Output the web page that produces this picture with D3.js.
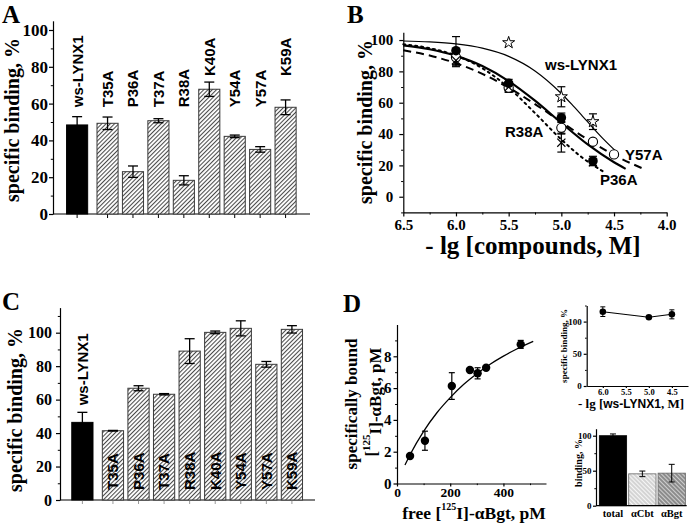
<!DOCTYPE html>
<html><head><meta charset="utf-8">
<script src="https://cdn.jsdelivr.net/npm/d3@7"></script>
<style>body{margin:0;background:#fff}</style>
</head><body>
<script>
// ---------------- DATA ----------------
const categories = ["ws-LYNX1","T35A","P36A","T37A","R38A","K40A","Y54A","Y57A","K59A"];
const valuesA = [48.4, 49.3, 23.0, 50.7, 18.3, 67.8, 42.2, 35.1, 58.0];
const errorsA = [4.5, 3.4, 3.1, 1.1, 2.5, 3.9, 0.7, 1.5, 4.0];
const valuesC = [46.4, 41.4, 66.8, 63.2, 89.0, 100.2, 102.6, 81.1, 102.0];
const errorsC = [6.0, 0.2, 1.5, 0.4, 7.4, 0.8, 4.5, 1.7, 2.2];
const ticksA = [0, 20, 40, 60, 80, 100];
const ticksB_x = [6.5, 6.0, 5.5, 5.0, 4.5, 4.0];
const ticksB_y = [0, 20, 40, 60, 80, 100];

// Panel B points (x = -lg[C, M])
const wsX = [5.5, 5.0, 4.7],           wsY = [98.3, 63.8, 47.9],             wsE = [0, 6.4, 5.0];
const p36X = [6.0, 5.5, 5.0, 4.7],     p36Y = [93.2, 72.4, 50.4, 22.8],      p36E = [9.0, 2.5, 3.0, 3.0];
const y57X = [6.0, 5.5, 5.0, 4.7, 4.5],y57Y = [89.0, 69.6, 44.0, 35.1, 27.0],y57E = [5.0, 3.0, 4.0, 0, 0];
const r38X = [6.0, 5.5, 5.0, 4.7],     r38Y = [87.0, 70.0, 34.5, 22.0],      r38E = [4.0, 3.0, 6.0, 2.0];
// Panel B fitted curves
const wsCurveX  = [6.5, 6.25, 6.0, 5.75, 5.5, 5.25, 5.0, 4.9, 4.8, 4.7, 4.6, 4.475];
const wsCurveY  = [99.4, 98.8, 97.5, 94.8, 89.6, 80.3, 65.9, 58.9, 51.5, 44.0, 36.8, 28.6];
const p36CurveX = [6.5, 6.25, 6.0, 5.75, 5.5, 5.25, 5.0, 4.75, 4.5, 4.39];
const p36CurveY = [96.6, 94.1, 89.9, 83.4, 73.8, 61.3, 47.1, 33.4, 22.0, 17.8];
const y57CurveX = [6.5, 6.25, 6.0, 5.75, 5.5, 5.25, 5.0, 4.75, 4.5, 4.21];
const y57CurveY = [93.5, 90.1, 85.2, 78.4, 69.6, 59.1, 47.7, 36.5, 26.6, 17.5];
const r38CurveX = [6.5, 6.25, 6.0, 5.75, 5.5, 5.25, 5.0, 4.8, 4.6];
const r38CurveY = [97.3, 94.8, 90.1, 82.0, 69.6, 53.4, 36.5, 24.9, 16.0];

// Panel D saturation
const freeD  = [49, 105, 206, 274, 303, 335, 465];
const boundD = [1.73, 2.69, 6.13, 7.14, 6.93, 7.28, 8.75];
const errD   = [0, 0.6, 0.84, 0, 0.35, 0, 0.25];
const fitFree  = [30, 50, 100, 150, 200, 250, 300, 350, 400, 450, 512];
const fitBound = [1.16, 1.84, 3.28, 4.45, 5.40, 6.22, 6.90, 7.50, 8.01, 8.46, 8.94];
// Inset 1
const insetX = [6.0, 5.0, 4.5];
const insetY = [115.4, 106.7, 111.3];
const insetE = [7.5, 1.5, 7.0];
const insetTicksX = [6.0, 5.5, 5.0, 4.5];
// Inset 2
const ctrlCats = ["total", "\u03b1Cbt", "\u03b1Bgt"];
const ctrlVals = [100, 45.5, 46.5];
const ctrlErr  = [2.5, 4.0, 12.6];

// ---------------- SETUP ----------------
const SERIF = "'Liberation Serif','Times New Roman',Times,serif";
const SANS = "'Liberation Sans',Arial,Helvetica,sans-serif";
const W = 693, H = 523;
const svg = d3.select("body").append("svg").attr("width", W).attr("height", H)
  .attr("font-family", SERIF);
svg.append("rect").attr("width", W).attr("height", H).attr("fill", "#fff");

const defs = svg.append("defs");
function hatch(id, bg, fg, angle, size, sw) {
  const p = defs.append("pattern").attr("id", id).attr("patternUnits", "userSpaceOnUse")
    .attr("width", size).attr("height", size).attr("patternTransform", `rotate(${angle})`);
  p.append("rect").attr("width", size).attr("height", size).attr("fill", bg);
  p.append("line").attr("x1", 0.5).attr("y1", 0).attr("x2", 0.5).attr("y2", size)
    .attr("stroke", fg).attr("stroke-width", sw);
}
hatch("hatchMain", "#fff", "#4a4a4a", 45, 3, 1.1);
hatch("hatchCbt", "#d4d4d4", "#f6f6f6", -45, 3, 1);
hatch("hatchBgt", "#8c8c8c", "#cfcfcf", -45, 3, 1);

function styleAxis(g, size) {
  g.attr("font-family", SERIF);
  g.select(".domain").attr("stroke", "#000").attr("stroke-width", 1.2);
  g.selectAll(".tick line").attr("stroke", "#000").attr("stroke-width", 1.2);
  g.selectAll(".tick text").attr("font-family", SERIF).attr("font-weight", "bold")
    .attr("font-size", size).attr("fill", "#000");
}
function leftAxis(scale, x, major, minor, size, fmt, len, pad) {
  const g = svg.append("g").attr("transform", `translate(${x},0)`);
  g.call(d3.axisLeft(scale).tickValues(major).tickSize(len).tickSizeOuter(0).tickPadding(pad).tickFormat(fmt));
  styleAxis(g, size);
  if (minor) {
    const m = svg.append("g").attr("transform", `translate(${x},0)`);
    m.call(d3.axisLeft(scale).tickValues(minor).tickSize(len * 0.55).tickSizeOuter(0).tickFormat(""));
    m.select(".domain").remove();
    m.selectAll(".tick line").attr("stroke", "#000").attr("stroke-width", 1);
  }
  return g;
}
function bottomAxis(scale, y, major, minor, size, fmt, len, pad) {
  const g = svg.append("g").attr("transform", `translate(0,${y})`);
  g.call(d3.axisBottom(scale).tickValues(major).tickSize(len).tickSizeOuter(0).tickPadding(pad).tickFormat(fmt));
  styleAxis(g, size);
  if (minor) {
    const m = svg.append("g").attr("transform", `translate(0,${y})`);
    m.call(d3.axisBottom(scale).tickValues(minor).tickSize(len * 0.55).tickSizeOuter(0).tickFormat(""));
    m.select(".domain").remove();
    m.selectAll(".tick line").attr("stroke", "#000").attr("stroke-width", 1);
  }
  return g;
}
function rotText(x, y, size, family, anchor) {
  return svg.append("text").attr("transform", `translate(${x},${y}) rotate(-90)`)
    .attr("text-anchor", anchor || "middle").attr("font-family", family)
    .attr("font-weight", "bold").attr("font-size", size).attr("fill", "#000");
}
function panelLetter(t, x, y) {
  svg.append("text").attr("x", x).attr("y", y).text(t).attr("font-family", SERIF)
    .attr("font-weight", "bold").attr("font-size", 25);
}
function errBar(g, x, y0, y1, cap, sw) {
  g.append("line").attr("x1", x).attr("x2", x).attr("y1", y0).attr("y2", y1).attr("stroke", "#000").attr("stroke-width", sw);
  g.append("line").attr("x1", x - cap / 2).attr("x2", x + cap / 2).attr("y1", y0).attr("y2", y0).attr("stroke", "#000").attr("stroke-width", sw);
  g.append("line").attr("x1", x - cap / 2).attr("x2", x + cap / 2).attr("y1", y1).attr("y2", y1).attr("stroke", "#000").attr("stroke-width", sw);
}

// ---------------- BAR PANELS (A, C) ----------------
const ctrlShift = -5;
function barPanel(cfg) {
  const { vals, errs, x, y, axisX, axisEnd, labelPos, tickSize } = cfg;
  const cx = (d, i) => x(d) + x.bandwidth() / 2 + (i === 0 ? ctrlShift : 0);
  const g = svg.append("g");
  g.append("line").attr("x1", axisX).attr("x2", axisEnd).attr("y1", y(0)).attr("y2", y(0))
    .attr("stroke", "#000").attr("stroke-width", 1.2);
  categories.forEach((d, i) => {
    g.append("line").attr("x1", cx(d, i)).attr("x2", cx(d, i)).attr("y1", y(0)).attr("y2", y(0) + 4)
      .attr("stroke", cfg.xTickColor).attr("stroke-width", 1);
  });
  const bw = x.bandwidth();
  categories.forEach((d, i) => {
    g.append("rect").attr("x", cx(d, i) - bw / 2).attr("y", y(vals[i]))
      .attr("width", bw).attr("height", y(0) - y(vals[i]))
      .attr("fill", i === 0 ? "#000" : "url(#hatchMain)")
      .attr("stroke", i === 0 ? "#000" : "#3a3a3a").attr("stroke-width", 1);
  });
  categories.forEach((d, i) => {
    errBar(g, cx(d, i), y(vals[i] + errs[i]), y(vals[i] - errs[i]), 10, 1.3);
  });
  categories.forEach((d, i) => {
    rotText(cx(d, i), labelPos(vals[i], errs[i], i), 15, SANS, "start").attr("dy", "0.36em").text(d);
  });
  leftAxis(y, axisX, cfg.major, cfg.minor, cfg.tickFont, d3.format("d"), tickSize, cfg.pad);
}

// Panel A
const xA = d3.scaleBand().domain(categories).range([69.4, 298.3]).paddingInner(0.17).paddingOuter(0.085);
const yA = d3.scaleLinear().domain([0, 105]).range([214, 20.8]);
barPanel({
  vals: valuesA, errs: errorsA, x: xA, y: yA, axisX: 53, axisEnd: 310,
  major: ticksA, minor: [10, 30, 50, 70, 90], tickFont: 17, tickSize: 4, pad: 1, xTickColor: "#000",
  labelPos: (v, e) => (v + e > 55 ? yA(75) : yA(58))
});
rotText(19, 120, 20, SERIF).text("specific binding, %");
panelLetter("A", 2, 23);

// Panel C
const xC = d3.scaleBand().domain(categories).range([74.6, 304.7]).paddingInner(0.17).paddingOuter(0.085);
const yC = d3.scaleLinear().domain([0, 115]).range([500, 307.6]);
barPanel({
  vals: valuesC, errs: errorsC, x: xC, y: yC, axisX: 60, axisEnd: 315,
  major: ticksA, minor: [10, 30, 50, 70, 90, 110], tickFont: 16, tickSize: 4, pad: 4, xTickColor: "#999",
  labelPos: (v, e, i) => (i === 0 ? yC(v + e) - 7 : yC(6))
});
rotText(22, 410, 20, SERIF).text("specific binding, %");
panelLetter("C", 2, 310);

// ---------------- PANEL B ----------------
const xB = d3.scaleLinear().domain([6.5, 4.0]).range([403.3, 666.7]);
const yB = d3.scaleLinear().domain([-10, 105]).range([212.4, 32.2]);
bottomAxis(xB, yB(-10), ticksB_x, [6.25, 5.75, 5.25, 4.75, 4.25], 15, d3.format(".1f"), 4, 3);
leftAxis(yB, xB(6.5), ticksB_y, [-10, 10, 30, 50, 70, 90], 15, d3.format("d"), 4, 6);

const seriesB = [
  { x: wsX, y: wsY, e: wsE, cx: wsCurveX, cy: wsCurveY, w: 1.2, dash: null, marker: "star" },
  { x: y57X, y: y57Y, e: y57E, cx: y57CurveX, cy: y57CurveY, w: 2, dash: "8,5", marker: "open" },
  { x: r38X, y: r38Y, e: r38E, cx: r38CurveX, cy: r38CurveY, w: 2, dash: "2,4", marker: "cross" },
  { x: p36X, y: p36Y, e: p36E, cx: p36CurveX, cy: p36CurveY, w: 2.2, dash: null, marker: "filled" }
];
const gB = svg.append("g");
const lineB = d3.line().x(d => xB(d[0])).y(d => yB(d[1])).curve(d3.curveMonotoneX);
seriesB.forEach(s => {
  gB.append("path").attr("d", lineB(s.cx.map((v, i) => [v, s.cy[i]])))
    .attr("fill", "none").attr("stroke", "#000").attr("stroke-width", s.w)
    .attr("stroke-dasharray", s.dash).attr("stroke-linecap", s.dash === "2,4" ? "round" : "butt");
});
seriesB.forEach(s => {
  s.x.forEach((v, i) => { if (s.e[i] > 0) errBar(gB, xB(v), yB(s.y[i] + s.e[i]), yB(s.y[i] - s.e[i]), 8, 1.2); });
});
seriesB.forEach(s => {
  s.x.forEach((v, i) => {
    const px = xB(v), py = yB(s.y[i]);
    if (s.marker === "filled") gB.append("circle").attr("cx", px).attr("cy", py).attr("r", 4.8).attr("fill", "#000");
    else if (s.marker === "open") gB.append("circle").attr("cx", px).attr("cy", py).attr("r", 4.6).attr("fill", "#fff").attr("stroke", "#000").attr("stroke-width", 1.1);
    else if (s.marker === "star") gB.append("path").attr("d", d3.symbol().type(d3.symbolStar).size(45)())
      .attr("transform", `translate(${px},${py})`).attr("fill", "#fff").attr("stroke", "#000").attr("stroke-width", 1);
    else gB.append("path").attr("d", d3.symbol().type(d3.symbolTimes).size(45)())
      .attr("transform", `translate(${px},${py})`).attr("fill", "none").attr("stroke", "#000").attr("stroke-width", 1.2);
  });
});
const labB = [["ws-LYNX1", 545, 70], ["R38A", 505, 137], ["Y57A", 625, 160], ["P36A", 600, 185]];
labB.forEach(l => svg.append("text").attr("x", l[1]).attr("y", l[2]).text(l[0])
  .attr("font-family", SANS).attr("font-weight", "bold").attr("font-size", 15));
rotText(372, 122, 20, SERIF).text("specific binding, %");
svg.append("text").attr("x", 533).attr("y", 254).attr("text-anchor", "middle")
  .attr("font-weight", "bold").attr("font-size", 25).text("- lg [compounds, M]");
panelLetter("B", 347, 23);

// ---------------- PANEL D ----------------
const xD = d3.scaleLinear().domain([0, 560]).range([397, 546]);
const yD = d3.scaleLinear().domain([0, 10]).range([483.5, 324.5]);
bottomAxis(xD, yD(0), [0, 200, 400], [100, 300, 500], 13.5, d3.format("d"), 3, 1);
leftAxis(yD, xD(0), [0, 2, 4, 6, 8], [1, 3, 5, 7, 9], 15, d3.format("d"), 3.5, 2);
const gD = svg.append("g");
gD.append("path").attr("d", d3.line().x(d => xD(d[0])).y(d => yD(d[1])).curve(d3.curveMonotoneX)(fitFree.map((v, i) => [v, fitBound[i]])))
  .attr("fill", "none").attr("stroke", "#000").attr("stroke-width", 1.3);
freeD.forEach((v, i) => { if (errD[i] > 0) errBar(gD, xD(v), yD(boundD[i] + errD[i]), yD(boundD[i] - errD[i]), 6, 1.2); });
freeD.forEach((v, i) => gD.append("circle").attr("cx", xD(v)).attr("cy", yD(boundD[i])).attr("r", 4.2).attr("fill", "#000"));
rotText(356.5, 404, 17, SERIF).text("specifically bound");
{
  const t = rotText(377, 402, 17, SERIF);
  t.append("tspan").text("[");
  t.append("tspan").attr("font-size", 11).attr("dy", "-0.6em").text("125");
  t.append("tspan").attr("dy", "0.6em").text("I]-\u03b1Bgt, pM");
}
{
  const t = svg.append("text").attr("x", 474).attr("y", 519).attr("text-anchor", "middle")
    .attr("font-weight", "bold").attr("font-size", 17.5);
  t.append("tspan").text("free [");
  t.append("tspan").attr("font-size", 10).attr("dy", "-0.9em").text("125");
  t.append("tspan").attr("dy", "0.5em").text("I]-\u03b1Bgt, pM");
}
panelLetter("D", 343, 312);

// ---------------- INSET 1 ----------------
const xI = d3.scaleLinear().domain([6.35, 4.15]).range([586.7, 688]);
const yI = d3.scaleLinear().domain([0, 125]).range([386, 305.5]);
bottomAxis(xI, yI(0), insetTicksX, null, 8.5, d3.format(".1f"), 2, 1);
leftAxis(yI, xI.range()[0], [0, 50, 100], [25, 75, 125], 9, d3.format("d"), 3, 2);
const gI = svg.append("g");
gI.append("path").attr("d", d3.line().x(d => xI(d[0])).y(d => yI(d[1]))(insetX.map((v, i) => [v, insetY[i]])))
  .attr("fill", "none").attr("stroke", "#000").attr("stroke-width", 1.1);
insetX.forEach((v, i) => errBar(gI, xI(v), yI(insetY[i] + insetE[i]), yI(insetY[i] - insetE[i]), 5, 1));
insetX.forEach((v, i) => gI.append("circle").attr("cx", xI(v)).attr("cy", yI(insetY[i])).attr("r", 3.3).attr("fill", "#000"));
rotText(567, 346, 9, SERIF).text("specific binding, %");
{
  const t = svg.append("text").attr("x", 631).attr("y", 408).attr("text-anchor", "middle")
    .attr("font-weight", "bold").attr("font-size", 13);
  t.append("tspan").text("- lg [");
  t.append("tspan").attr("font-family", SANS).attr("font-size", 12).text("ws-LYNX1");
  t.append("tspan").text(", M]");
}

// ---------------- INSET 2 ----------------
const xJ = d3.scaleBand().domain(ctrlCats).range([598.3, 686.4]).paddingInner(0.07).paddingOuter(0.035);
const yJ = d3.scaleLinear().domain([0, 110]).range([505.7, 428.7]);
const gJ = svg.append("g");
const fillsJ = ["#000", "url(#hatchCbt)", "url(#hatchBgt)"];
ctrlCats.forEach((d, i) => {
  gJ.append("rect").attr("x", xJ(d)).attr("y", yJ(ctrlVals[i])).attr("width", xJ.bandwidth())
    .attr("height", yJ(0) - yJ(ctrlVals[i])).attr("fill", fillsJ[i])
    .attr("stroke", i === 0 ? "#000" : "#666").attr("stroke-width", 0.8);
});
ctrlCats.forEach((d, i) => errBar(gJ, xJ(d) + xJ.bandwidth() / 2, yJ(ctrlVals[i] + ctrlErr[i]), yJ(ctrlVals[i] - ctrlErr[i]), 6, 1));
{
  const g = svg.append("g").attr("transform", `translate(0,${yJ(0)})`);
  g.call(d3.axisBottom(xJ).tickSize(0).tickPadding(4).tickSizeOuter(0));
  g.attr("font-family", SERIF);
  g.select(".domain").attr("stroke", "#000").attr("stroke-width", 1.2)
    .attr("d", `M596,0H686.7`);
  g.selectAll(".tick text").attr("font-family", SERIF).attr("font-weight", "bold").attr("font-size", 10.5).attr("fill", "#000");
}
leftAxis(yJ, 596, [0, 50, 100], [25, 75], 9, d3.format("d"), 3, 1.5);
rotText(582, 463, 10, SERIF).text("binding, %");
</script>
</body></html>
